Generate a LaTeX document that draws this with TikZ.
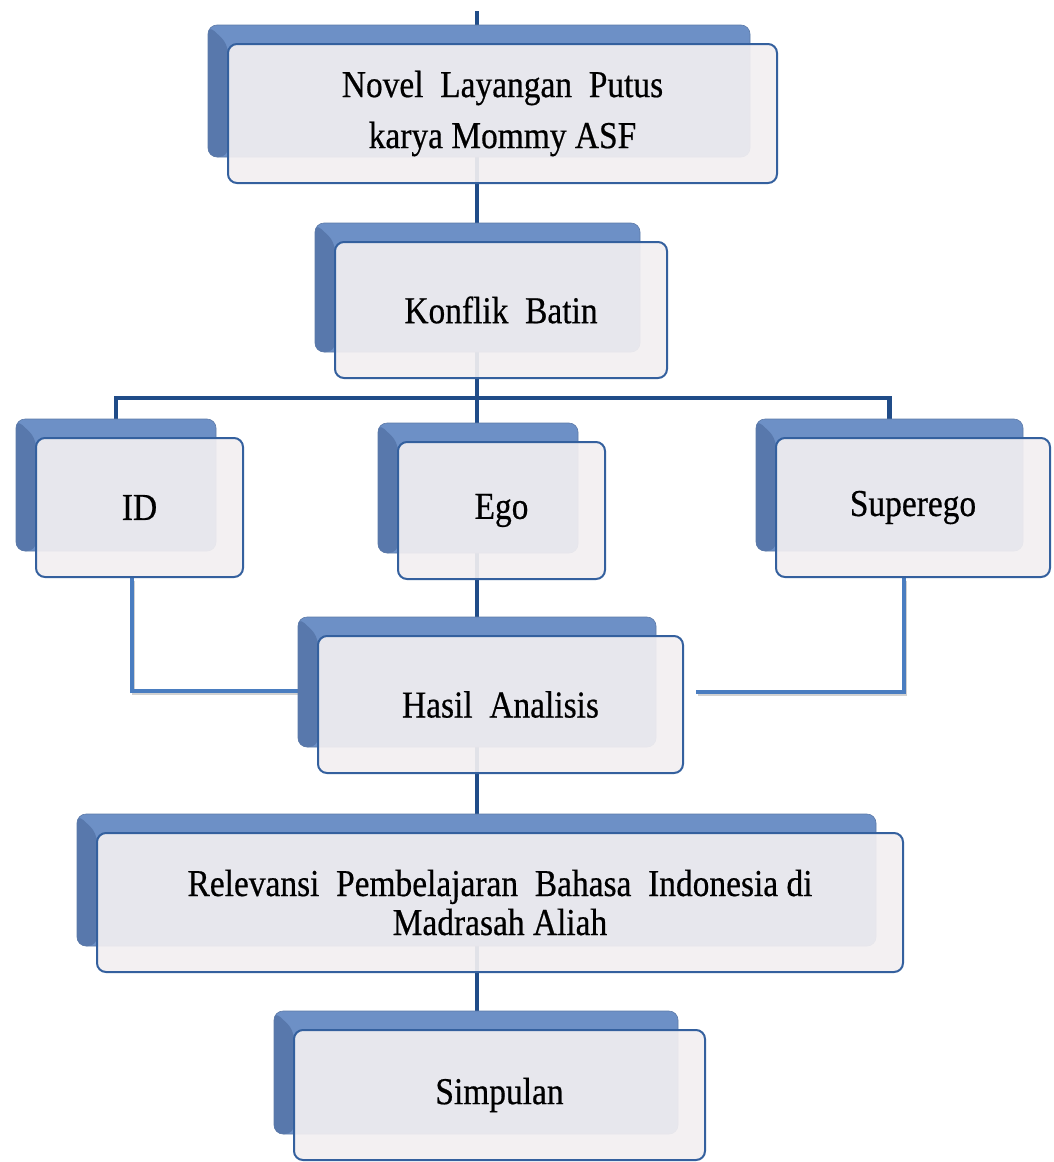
\documentclass[tikz,border=0pt]{standalone}
\usepackage{fontspec}
\setmainfont[FakeStretch=0.88,FakeBold=0.5]{Liberation Serif}
\usetikzlibrary{calc}
\pgfdeclarelayer{bg}
\pgfsetlayers{bg,main}
\definecolor{backc}{HTML}{6D90C6}
\definecolor{bevelc}{HTML}{5878AC}
\definecolor{frontc}{HTML}{F2EFF1}
\definecolor{edgec}{HTML}{34609E}
\definecolor{navyc}{HTML}{204C88}
\definecolor{lbluec}{HTML}{4A7DC0}
\tikzset{
  backbox/.style={draw=backc!85!black, line width=0.6pt, fill=backc, rounded corners=9pt,
    inner sep=0pt, path picture={\fill[bevelc] (path picture bounding box.north west) -- ++(20pt,-19pt)
      -- ($(path picture bounding box.south west)+(20pt,0pt)$) -- (path picture bounding box.south west) -- cycle;}},
  frontbox/.style={draw=edgec, line width=2pt, fill=frontc, fill opacity=0.92, text opacity=1,
    rounded corners=9pt, inner sep=0pt, align=center},
  navyline/.style={draw=navyc, line width=4.5pt},
  lightline/.style={draw=lbluec, line width=3.5pt},
  shadowline/.style={draw=black, opacity=0.18, line width=3.5pt},
}
% #1 name, #2 fx1, #3 fy1, #4 fx2, #5 fy2, #6 baselineskip, #7 text
\newcommand\mkpair[7]{%
  \pgfmathsetmacro\bxfcx{(#2+#4)/2}%
  \pgfmathsetmacro\bxfcy{(#3+#5)/2}%
  \pgfmathsetmacro\bxfw{#4-#2}%
  \pgfmathsetmacro\bxfh{#5-#3}%
  \pgfmathsetmacro\bxbcx{(#2+#4-47)/2}%
  \pgfmathsetmacro\bxbcy{(#3+#5-45)/2}%
  \pgfmathsetmacro\bxbw{#4-#2-7}%
  \pgfmathsetmacro\bxbh{#5-#3-7}%
  \node[backbox, minimum width=\bxbw pt, minimum height=\bxbh pt] (#1b) at (\bxbcx,\bxbcy) {};
  \node[frontbox, minimum width=\bxfw pt, minimum height=\bxfh pt,
        font=\fontsize{38}{#6}\selectfont] (#1) at (\bxfcx,\bxfcy) {#7};
}
\begin{document}
\begin{tikzpicture}[x=1pt,y=-1pt]
\useasboundingbox (0,0) rectangle (1053,1162);
\mkpair{novel}{228}{44}{777}{183}{51}{Novel\ \ Layangan\ \ Putus\\karya Mommy ASF}
\mkpair{konf}{335}{242}{667}{378}{46}{Konflik\ \ Batin}
\mkpair{id}{36}{438}{243}{577}{46}{ID}
\mkpair{ego}{398}{442}{605}{579}{46}{Ego}
\mkpair{sup}{776}{438}{1050}{577}{46}{Superego}
\mkpair{hasil}{318}{636}{683}{773}{46}{Hasil\ \ Analisis}
\mkpair{rel}{97}{833}{903}{972}{39}{Relevansi\ \ Pembelajaran\ \ Bahasa\ \ Indonesia di\\Madrasah Aliah}
\mkpair{simp}{294}{1030}{705}{1160}{46}{Simpulan}
\coordinate (top) at (477,11);
\coordinate (bar) at (477,398);
\begin{pgfonlayer}{bg}
  \fill[white] (0,0) rectangle (1053,1162);
  \draw[navyline] (top) -- (top |- novelb.north);
  \draw[navyline] (top |- novelb.south) -- (top |- konfb.north);
  \draw[navyline] (top |- konfb.south) -- (top |- egob.north);
  \draw[navyline] (idb.north) |- (bar) -| (supb.north);
  \draw[navyline] (top |- egob.south) -- (top |- hasilb.north);
  \draw[navyline] (top |- hasilb.south) -- (top |- relb.north);
  \draw[navyline] (top |- relb.south) -- (top |- simpb.north);
  \draw[shadowline, transform canvas={shift={(1.5pt,-2.5pt)}}] ([xshift=-7.5pt]id.south) |- ([yshift=-9pt]hasilb.west);
  \draw[shadowline, transform canvas={shift={(1.5pt,-2.5pt)}}] ([xshift=-9pt]sup.south) |- ([xshift=12pt,yshift=12.5pt]hasil.east);
  \draw[lightline] ([xshift=-7.5pt]id.south) |- ([yshift=-9pt]hasilb.west);
  \draw[lightline] ([xshift=-9pt]sup.south) |- ([xshift=12pt,yshift=12.5pt]hasil.east);
\end{pgfonlayer}
\end{tikzpicture}
\end{document}
